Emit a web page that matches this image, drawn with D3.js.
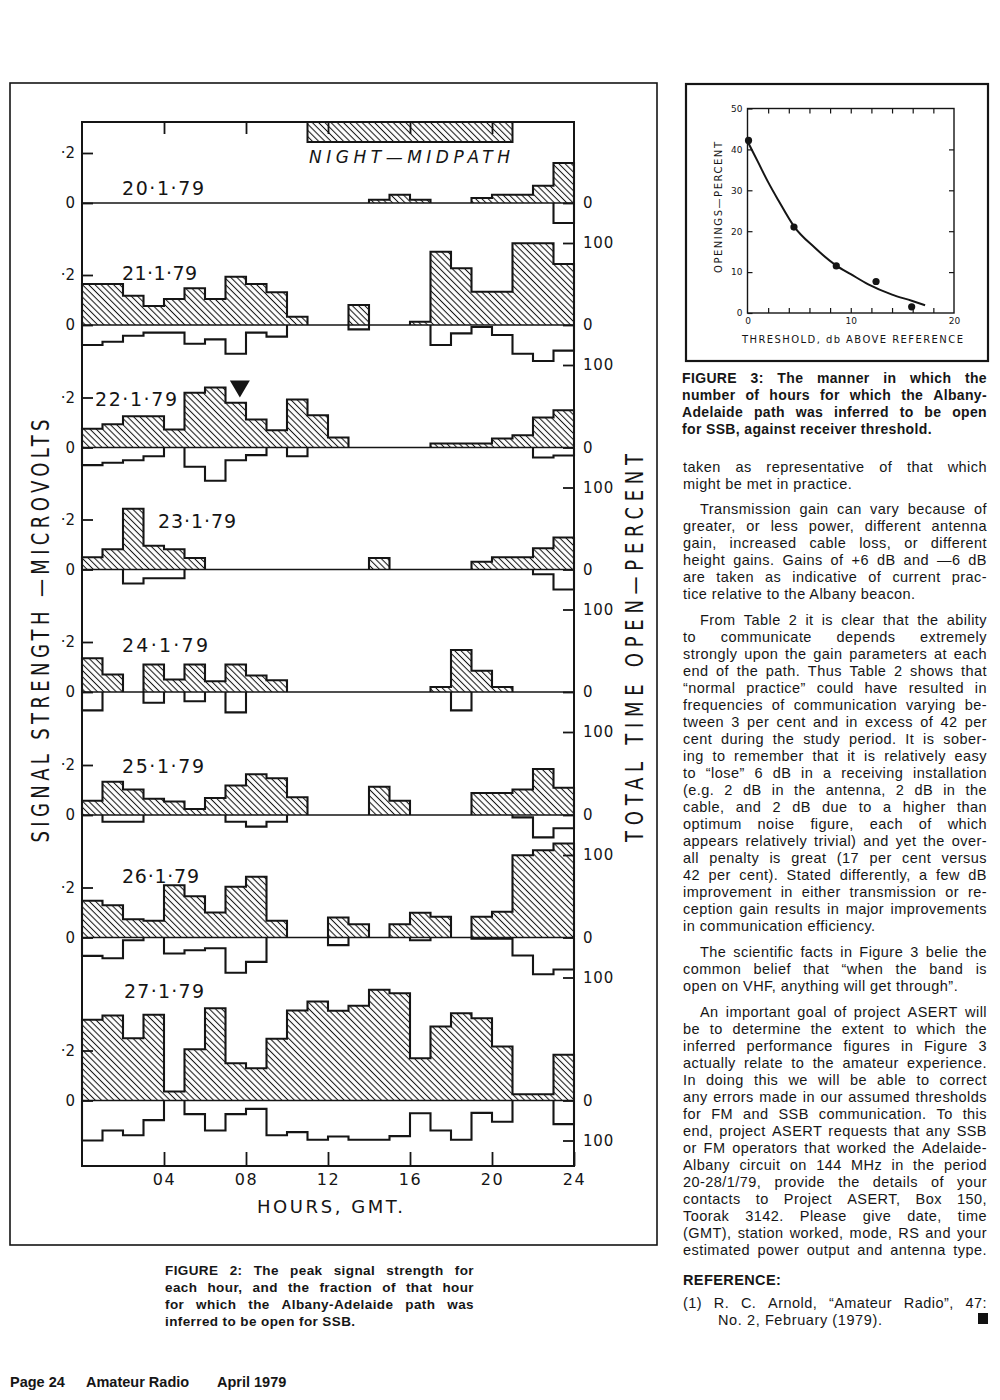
<!DOCTYPE html>
<html><head><meta charset="utf-8">
<script src="https://cdn.jsdelivr.net/npm/d3@7"></script>
<style>body{margin:0;background:#fff}svg{display:block}</style>
</head><body>
<svg id="c" width="1000" height="1400"></svg>
<script>
// ---------------- DATA ----------------
const dateLabels = ["20·1·79","21·1·79","22·1·79","23·1·79","24·1·79","25·1·79","26·1·79","27·1·79"];
const hourTicks = [4, 8, 12, 16, 20, 24];
const hourLabels = ["04","08","12","16","20","24"];
// peak signal strength (microvolts) per hour, 00-01 ... 23-24 GMT
const sig20 = [0,0,0,0,0,0,0,0,0,0,0,0,0,0,0.013,0.033,0.013,0,0,0.02,0.033,0.033,0.069,0.16];
const sig21 = [0.164,0.164,0.117,0.076,0.104,0.147,0.104,0.193,0.164,0.131,0.033,0,0,0.08,0,0,0.013,0.293,0.227,0.133,0.133,0.327,0.327,0.244];
const sig22 = [0.075,0.093,0.125,0.125,0.072,0.219,0.24,0.179,0.112,0.069,0.192,0.129,0.04,0,0,0,0,0.016,0.016,0.016,0.036,0.049,0.12,0.149];
const sig23 = [0.049,0.081,0.243,0.095,0.081,0.046,0,0,0,0,0,0,0,0,0.046,0,0,0,0,0.031,0.049,0.049,0.085,0.128];
const sig24 = [0.135,0.07,0,0.11,0.05,0.11,0.043,0.11,0.066,0.047,0,0,0,0,0,0,0,0.02,0.168,0.085,0.02,0,0,0];
const sig25 = [0.057,0.133,0.102,0.065,0.054,0.024,0.068,0.118,0.163,0.147,0.071,0,0,0,0.113,0.057,0,0,0,0.088,0.088,0.102,0.184,0.109];
const sig26 = [0.147,0.129,0.073,0.067,0.209,0.165,0.1,0.203,0.243,0.067,0,0,0.08,0.053,0,0.053,0.099,0.083,0,0.083,0.103,0.329,0.349,0.376];
const sig27 = [0.323,0.34,0.249,0.343,0.036,0.205,0.369,0.149,0.129,0.247,0.36,0.396,0.359,0.379,0.443,0.429,0.169,0.296,0.349,0.329,0.216,0.025,0.025,0.183];
// fraction of each hour the path was open (percent)
const pct20 = [0,0,0,0,0,0,0,0,0,0,0,0,0,0,0,0,0,0,0,0,0,0,0,50];
const pct21 = [50,42,27,19,19,47,36,72,19,29,0,0,0,11,0,0,0,50,21,5,25,72,90,64];
const pct22 = [44,38,32,22,0,48,83,32,19,0,22,0,0,0,0,0,0,0,0,0,0,0,25,20];
const pct23 = [0,0,35,22,22,0,0,0,0,0,0,0,0,0,0,0,0,0,0,0,0,0,12,50];
const pct24 = [46,0,0,27,0,23,0,51,0,0,0,0,0,0,0,0,0,0,46,0,0,0,0,0];
const pct25 = [0,17,17,0,0,0,0,17,29,17,0,0,0,0,0,0,0,0,0,0,0,6,56,33];
const pct26 = [46,52,7,0,40,32,27,88,61,0,0,0,19,0,0,0,7,0,0,3,3,45,92,80];
const pct27 = [100,75,87,49,0,34,75,34,21,87,79,98,90,98,98,89,32,75,98,31,53,0,0,59];
const nightHours = [11, 21];
const markerHour = 7.7, markerValue = 0.2;   // ▼ on 22·1·79
// Figure 3
const fig3Threshold = [0.1, 4.5, 8.6, 12.45, 15.9];
const fig3Openings  = [42.2, 21, 11.5, 7.7, 1.5];
const fig3CurveX = [0, 1, 2, 3, 4.5, 6.5, 8.6, 10, 11.7, 14, 15.9, 17.2];
const fig3CurveY = [42, 37, 32, 27.5, 21.2, 16, 11.6, 9.5, 7, 4.5, 3, 1.9];

// ---------------- LAYOUT ----------------
const svg = d3.select("#c");
const INK = "#151515";
const F = "'DejaVu Sans', sans-serif";
const B = "'Liberation Sans', Arial, sans-serif";
const panelZero = [203, 325, 447.5, 569.5, 692, 815, 937.5, 1100.5];
const labelPos = [[122,195,82],[122,280,75],[95,406,82],[158,528,78],[122,652,86],[122,773,82],[122,883,77],[124,998,80]];
const frame = {l: 82, r: 574, t: 122, b: 1166};
const sigPx = 50, pctPx = 40;

const defs = svg.append("defs");
const pat = defs.append("pattern").attr("id","hatch").attr("patternUnits","userSpaceOnUse")
  .attr("width",4.4).attr("height",4.4).attr("patternTransform","rotate(-45)");
pat.append("line").attr("x1",2.2).attr("x2",2.2).attr("y1",-1).attr("y2",5.4)
  .attr("stroke",INK).attr("stroke-width",1.05);

// outer frame of figure 2
svg.append("rect").attr("x",10).attr("y",83).attr("width",647).attr("height",1162)
  .attr("fill","none").attr("stroke",INK).attr("stroke-width",1.6);

const x = d3.scaleLinear().domain([0,24]).range([frame.l, frame.r]);

const sigs = [sig20,sig21,sig22,sig23,sig24,sig25,sig26,sig27];
const pcts = [pct20,pct21,pct22,pct23,pct24,pct25,pct26,pct27];

function runsOf(vals){
  const r=[]; let cur=null;
  vals.forEach((v,h)=>{ if(v>0){ if(!cur){cur=[]; r.push(cur);} cur.push(h);} else cur=null; });
  return r;
}
function stepPts(run, vals){
  const pts=[[run[0],0]];
  run.forEach(h=>{ pts.push([h,vals[h]]); pts.push([h+1,vals[h]]); });
  pts.push([run[run.length-1]+1,0]);
  return pts;
}

const chart = svg.append("g");

// night box
chart.append("rect").attr("x",x(nightHours[0])).attr("y",frame.t)
  .attr("width",x(nightHours[1])-x(nightHours[0])).attr("height",20)
  .attr("fill","url(#hatch)").attr("stroke",INK).attr("stroke-width",2);
chart.append("text").attr("x",309).attr("y",163).attr("font-family",F).attr("font-style","italic")
  .attr("font-size",17).attr("textLength",201).attr("lengthAdjust","spacing").attr("fill",INK)
  .text("NIGHT—MIDPATH");

sigs.forEach((sig,i)=>{
  const z = panelZero[i];
  const ys = d3.scaleLinear().domain([0,0.2]).range([z, z-sigPx]);
  const yp = d3.scaleLinear().domain([0,100]).range([z, z+pctPx]);
  const g = chart.append("g");
  const ls = d3.line().x(d=>x(d[0])).y(d=>ys(d[1]));
  const lp = d3.line().x(d=>x(d[0])).y(d=>yp(d[1]));
  runsOf(sig).forEach(run=>{
    const pts = stepPts(run, sig);
    g.append("path").attr("d", ls(pts)+"Z").attr("fill","url(#hatch)").attr("stroke","none");
    g.append("path").attr("d", ls(pts)).attr("fill","none").attr("stroke",INK).attr("stroke-width",2.1);
  });
  runsOf(pcts[i]).forEach(run=>{
    const pts = stepPts(run, pcts[i]);
    g.append("path").attr("d", lp(pts)).attr("fill","none").attr("stroke",INK).attr("stroke-width",2.1);
  });
  // zero line
  g.append("line").attr("x1",frame.l).attr("x2",frame.r).attr("y1",z).attr("y2",z)
    .attr("stroke",INK).attr("stroke-width",1.7);
  // left axis
  const la = g.append("g").attr("transform",`translate(${frame.l},0)`)
    .call(d3.axisLeft(ys).tickValues([0,0.2]).tickSizeInner(-11).tickSizeOuter(0).tickPadding(7)
      .tickFormat(d=> d ? "·2" : "0"));
  la.select(".domain").remove();
  la.selectAll("line").attr("stroke",INK).attr("stroke-width",1.8);
  la.selectAll("text").attr("font-family",F).attr("font-size",15).attr("fill",INK);
  // right axis
  const ra = g.append("g").attr("transform",`translate(${frame.r},0)`)
    .call(d3.axisRight(yp).tickValues([0,100]).tickSizeInner(-11).tickSizeOuter(0).tickPadding(9)
      .tickFormat(d=> String(d)));
  ra.select(".domain").remove();
  ra.selectAll("line").attr("stroke",INK).attr("stroke-width",1.8);
  ra.selectAll("text").attr("font-family",F).attr("font-size",15).attr("fill",INK).attr("letter-spacing",0.8);
  // date label
  const lp2 = labelPos[i];
  g.append("text").attr("x",lp2[0]).attr("y",lp2[1]).attr("font-family",F).attr("font-size",19)
    .attr("textLength",lp2[2]).attr("lengthAdjust","spacing").attr("fill",INK).text(dateLabels[i]);
  if (i===2){
    const cx = x(markerHour), ty = ys(markerValue);
    g.append("path").attr("d",`M${cx-10},${ty-17}L${cx+10},${ty-17}L${cx},${ty}Z`).attr("fill",INK);
  }
});

// frame
chart.append("rect").attr("x",frame.l).attr("y",frame.t).attr("width",frame.r-frame.l)
  .attr("height",frame.b-frame.t).attr("fill","none").attr("stroke",INK).attr("stroke-width",2);
// top ticks
const ta = chart.append("g").attr("transform",`translate(0,${frame.t})`)
  .call(d3.axisTop(x).tickValues(hourTicks.slice(0,5)).tickSizeInner(-12).tickSizeOuter(0).tickFormat(""));
ta.select(".domain").remove(); ta.selectAll("line").attr("stroke",INK).attr("stroke-width",1.8);
// bottom axis
const ba = chart.append("g").attr("transform",`translate(0,${frame.b})`)
  .call(d3.axisBottom(x).tickValues(hourTicks).tickSizeInner(-14).tickSizeOuter(0).tickPadding(8)
    .tickFormat((d,i)=>hourLabels[i]));
ba.select(".domain").remove(); ba.selectAll("line").attr("stroke",INK).attr("stroke-width",1.8);
ba.selectAll("text").attr("font-family",F).attr("font-size",16).attr("fill",INK).attr("letter-spacing",1.5);
chart.append("text").attr("x",330).attr("y",1213).attr("text-anchor","middle").attr("font-family",F)
  .attr("font-size",18).attr("textLength",146).attr("lengthAdjust","spacing").attr("fill",INK).text("HOURS, GMT.");

// axis titles
chart.append("text").attr("transform","translate(49,631) rotate(-90) scale(0.72,1)")
  .attr("text-anchor","middle").attr("font-family",F).attr("font-size",25)
  .attr("textLength",423/0.72).attr("lengthAdjust","spacing").attr("fill",INK)
  .text("SIGNAL STRENGTH —MICROVOLTS");
chart.append("text").attr("transform","translate(643,648) rotate(-90) scale(0.72,1)")
  .attr("text-anchor","middle").attr("font-family",F).attr("font-size",25)
  .attr("textLength",388/0.72).attr("lengthAdjust","spacing").attr("fill",INK)
  .text("TOTAL TIME OPEN—PERCENT");

// ---------------- FIGURE 3 ----------------
const f3 = svg.append("g");
f3.append("rect").attr("x",686).attr("y",84).attr("width",302).attr("height",277)
  .attr("fill","none").attr("stroke",INK).attr("stroke-width",2.2);
const fx = d3.scaleLinear().domain([0,20]).range([747.5,954]);
const fy = d3.scaleLinear().domain([0,50]).range([313,108.5]);
f3.append("rect").attr("x",fx(0)).attr("y",fy(50)).attr("width",fx(20)-fx(0)).attr("height",fy(0)-fy(50))
  .attr("fill","none").attr("stroke",INK).attr("stroke-width",1.4);
const xMinor = [2,4,6,8,10,12,14,16,18], yMinor = [10,20,30,40];
function styleAx(sel){ sel.select(".domain").remove(); sel.selectAll("line").attr("stroke",INK).attr("stroke-width",1.2);
  sel.selectAll("text").attr("font-family",F).attr("font-size",9).attr("fill",INK); }
f3.append("g").attr("transform",`translate(0,${fy(0)})`).call(d3.axisBottom(fx).tickValues(xMinor).tickSizeInner(-5).tickSizeOuter(0).tickFormat("")).call(styleAx);
f3.append("g").attr("transform",`translate(0,${fy(50)})`).call(d3.axisTop(fx).tickValues(xMinor).tickSizeInner(-5).tickSizeOuter(0).tickFormat("")).call(styleAx);
f3.append("g").attr("transform",`translate(${fx(20)},0)`).call(d3.axisRight(fy).tickValues(yMinor).tickSizeInner(-5).tickSizeOuter(0).tickFormat("")).call(styleAx);
f3.append("g").attr("transform",`translate(${fx(0)},0)`).call(d3.axisLeft(fy).tickValues([0,10,20,30,40,50]).tickSizeInner(-5).tickSizeOuter(0).tickPadding(5)).call(styleAx);
f3.append("g").attr("transform",`translate(0,${fy(0)})`).call(d3.axisBottom(fx).tickValues([0,10,20]).tickSize(0).tickPadding(5)).call(styleAx);
f3.append("path").datum(fig3CurveX.map((v,i)=>[v,fig3CurveY[i]]))
  .attr("d", d3.line().x(d=>fx(d[0])).y(d=>fy(d[1])).curve(d3.curveMonotoneX))
  .attr("fill","none").attr("stroke",INK).attr("stroke-width",2);
f3.selectAll("circle.pt").data(fig3Threshold).join("circle").attr("class","pt")
  .attr("cx",d=>fx(d)).attr("cy",(d,i)=>fy(fig3Openings[i])).attr("r",3.6).attr("fill",INK);
f3.append("text").attr("x",742).attr("y",343).attr("font-family",F).attr("font-size",10)
  .attr("textLength",221).attr("lengthAdjust","spacing").attr("fill",INK).text("THRESHOLD, db ABOVE REFERENCE");
f3.append("text").attr("transform","translate(722,207.5) rotate(-90)").attr("text-anchor","middle")
  .attr("font-family",F).attr("font-size",10).attr("textLength",131).attr("lengthAdjust","spacing")
  .attr("fill",INK).text("OPENINGS—PERCENT");

// ---------------- TEXT ----------------
const txt = svg.append("g");
function textLine(str, x0, y, width, justify, size, weight, ls){
  const st = s => s.attr("font-family",B).attr("font-size",size).attr("font-weight",weight||"normal")
    .attr("fill","#161616").attr("letter-spacing",ls||0);
  const words = str.split(" ");
  if(!justify || words.length<2){ txt.append("text").attr("x",x0).attr("y",y).call(st).text(str); return; }
  const els = words.map(w=>txt.append("text").attr("y",y).call(st).text(w));
  const ws = els.map(e=>e.node().getComputedTextLength());
  const gap = (width - d3.sum(ws))/(words.length-1);
  if (gap < size*0.2) {
    els.forEach(e=>e.remove());
    txt.append("text").attr("x",x0).attr("y",y).call(st).attr("textLength",width)
      .attr("lengthAdjust","spacingAndGlyphs").text(str);
    return;
  }
  let cx = x0;
  els.forEach((e,k)=>{ e.attr("x",cx); cx += ws[k]+gap; });
}
function para(lines, y0, indent, justifyLast){
  lines.forEach((s,k)=>{
    const xi = (k===0 && indent) ? 700 : 683;
    const last = k===lines.length-1;
    textLine(s, xi, y0 + k*17 + 5, 987-xi, !last || justifyLast, 14.5, "normal", 0.45);
  });
}
para(["taken as representative of that which","might be met in practice."], 467, false, false);
para(["Transmission gain can vary because of","greater, or less power, different antenna","gain, increased cable loss, or different",
  "height gains. Gains of +6 dB and —6 dB","are taken as indicative of current prac-","tice relative to the Albany beacon."], 509, true, false);
para(["From Table 2 it is clear that the ability","to communicate depends extremely","strongly upon the gain parameters at each",
  "end of the path. Thus Table 2 shows that","“normal practice” could have resulted in","frequencies of communication varying be-",
  "tween 3 per cent and in excess of 42 per","cent during the study period. It is sober-","ing to remember that it is relatively easy",
  "to “lose” 6 dB in a receiving installation","(e.g. 2 dB in the antenna, 2 dB in the","cable, and 2 dB due to a higher than",
  "optimum noise figure, each of which","appears relatively trivial) and yet the over-","all penalty is great (17 per cent versus",
  "42 per cent). Stated differently, a few dB","improvement in either transmission or re-","ception gain results in major improvements",
  "in communication efficiency."], 620, true, false);
para(["The scientific facts in Figure 3 belie the","common belief that “when the band is","open on VHF, anything will get through”."], 952, true, false);
para(["An important goal of project ASERT will","be to determine the extent to which the","inferred performance figures in Figure 3",
  "actually relate to the amateur experience.","In doing this we will be able to correct","any errors made in our assumed thresholds",
  "for FM and SSB communication. To this","end, project ASERT requests that any SSB","or FM operators that worked the Adelaide-",
  "Albany circuit on 144 MHz in the period","20-28/1/79, provide the details of your","contacts to Project ASERT, Box 150,",
  "Toorak 3142. Please give date, time","(GMT), station worked, mode, RS and your","estimated power output and antenna type."], 1012, true, true);
textLine("REFERENCE:", 683, 1285, 0, false, 14.5, "bold", 0.4);
textLine("(1) R. C. Arnold, “Amateur Radio”, 47:", 683, 1308, 304, true, 14.5, "normal", 0.45);
textLine("No. 2, February (1979).", 718, 1325, 0, false, 14.5, "normal", 0.6);
txt.append("rect").attr("x",978).attr("y",1313).attr("width",10).attr("height",11).attr("fill","#111");

// captions
["FIGURE 3: The manner in which the","number of hours for which the Albany-","Adelaide path was inferred to be open","for SSB, against receiver threshold."]
  .forEach((s,k,a)=>textLine(s, 682, 383 + k*17, 305, k<a.length-1, 14, "bold", 0.35));
["FIGURE 2: The peak signal strength for","each hour, and the fraction of that hour","for which the Albany-Adelaide path was","inferred to be open for SSB."]
  .forEach((s,k,a)=>textLine(s, 165, 1275 + k*17, 309, k<a.length-1, 13.5, "bold", 0.4));
textLine("Page 24", 10, 1387, 0, false, 14.5, "bold", 0);
textLine("Amateur Radio", 86, 1387, 0, false, 14.5, "bold", 0);
textLine("April 1979", 217, 1387, 0, false, 14.5, "bold", 0);
</script>
</body></html>
